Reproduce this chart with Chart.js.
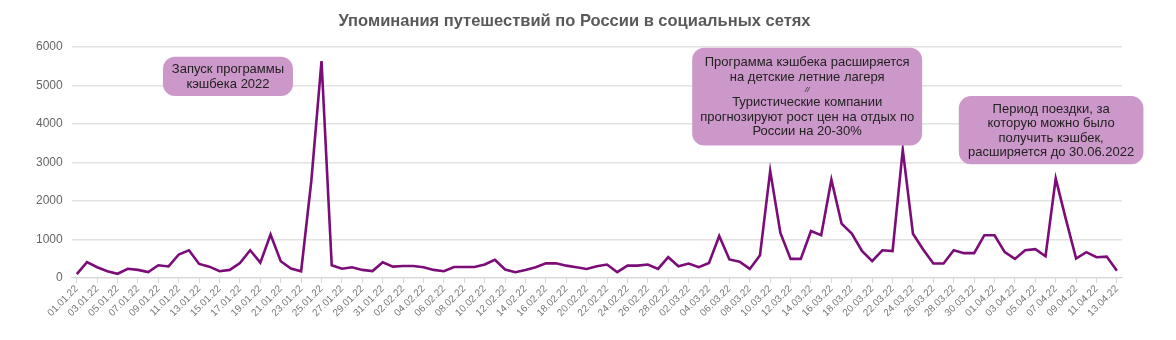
<!DOCTYPE html>
<html>
<head>
<meta charset="utf-8">
<script src="https://cdn.jsdelivr.net/npm/chart.js@4/dist/chart.umd.min.js"></script>
<style>
  html, body { margin: 0; padding: 0; background: #fff; }
  #wrap { width: 1176px; height: 340px; }
</style>
</head>
<body>
<div id="wrap"><canvas id="c" width="1176" height="340"></canvas></div>
<script>
const title = 'Упоминания путешествий по России в социальных сетях';
const months = ['01', '02', '03', '04'];
const daysInMonth = [31, 28, 31, 13];
const categories = [];
months.forEach((m, mi) => {
  for (let d = 1; d <= daysInMonth[mi]; d++) {
    categories.push(String(d).padStart(2, '0') + '.' + m + '.22');
  }
});
const mentions = [
  100, 410, 280, 175, 110, 240, 210, 155, 330, 300, 610, 720, 365, 295, 175, 210,
  390, 720, 400, 1130, 435, 245, 175, 2520, 5630, 330, 240, 280, 210, 180, 410, 295,
  310, 310, 280, 210, 175, 285, 285, 285, 350, 470, 220, 150, 210, 280, 380, 380,
  320, 280, 235, 305, 350, 150, 320, 320, 350, 235, 540, 305, 375, 280, 390, 1090,
  480, 420, 235, 590,
  2780, 1170, 495, 495, 1220, 1110, 2550, 1410, 1150, 700, 435, 720, 700, 3330, 1150,
  740, 375, 375, 720, 645, 645, 1110, 1110, 670, 495, 720, 750, 565, 2580, 1520, 505,
  670, 540, 555, 190
];
const yTicks = [0, 1000, 2000, 3000, 4000, 5000, 6000];

const note1 = ['Запуск программы', 'кэшбека 2022'];
const note2 = ['Программа кэшбека расширяется', 'на детские летние лагеря', '//',
  'Туристические компании', 'прогнозируют рост цен на отдых по', 'России на 20-30%'];
const note3 = ['Период поездки, за', 'которую можно было', 'получить кэшбек,', 'расширяется до 30.06.2022'];
// boxes anchored in data space: category index range and value range
const notes = [
  { lines: note1, xMin: 8.45, xMax: 21.2, yMax: 5740, yMin: 4720 },
  { lines: note2, xMin: 60.35, xMax: 82.9, yMax: 5975, yMin: 3440 },
  { lines: note3, xMin: 86.5, xMax: 104.6, yMax: 4720, yMin: 2950 }
];

const notePlugin = {
  id: 'notes',
  afterDatasetsDraw(chart) {
    const { ctx, scales: { x, y } } = chart;
    ctx.save();
    notes.forEach(n => {
      const l = x.getPixelForValue(n.xMin), r = x.getPixelForValue(n.xMax);
      const t = y.getPixelForValue(n.yMax), b = y.getPixelForValue(n.yMin);
      ctx.fillStyle = '#cc97c9';
      ctx.beginPath();
      ctx.roundRect(l, t, r - l, b - t, 12);
      ctx.fill();
      const heights = n.lines.map(s => s === '//' ? 11 : 14.5);
      const total = heights.reduce((a, c) => a + c, 0);
      let cy = (t + b) / 2 - total / 2 + 0.5;
      ctx.fillStyle = '#222';
      ctx.textAlign = 'center';
      ctx.textBaseline = 'middle';
      n.lines.forEach((s, i) => {
        ctx.font = s === '//' ? 'italic 8px "Liberation Sans", Arial, sans-serif' : '13px "Liberation Sans", Arial, sans-serif';
        ctx.fillText(s, (l + r) / 2, cy + heights[i] / 2);
        cy += heights[i];
      });
    });
    ctx.restore();
  }
};

new Chart(document.getElementById('c'), {
  type: 'line',
  data: {
    labels: categories,
    datasets: [{
      data: mentions,
      borderColor: '#7b0c78',
      borderWidth: 2.6,
      pointRadius: 0,
      tension: 0,
      fill: false
    }]
  },
  options: {
    responsive: false,
    animation: false,
    layout: { padding: { left: 27, right: 54, top: 10, bottom: 21 } },
    plugins: {
      legend: { display: false },
      tooltip: { enabled: false },
      title: {
        display: true,
        text: title,
        color: '#595959',
        font: { family: '"Liberation Sans", Arial, sans-serif', size: 16.5, weight: 'bold' },
        padding: { top: 2, bottom: 15 }
      }
    },
    scales: {
      x: {
        offset: true,
        grid: {
          display: true,
          drawOnChartArea: false,
          tickLength: 5,
          color: ctx => (ctx.index % 2 === 0 ? '#d6d6d6' : 'rgba(0,0,0,0)')
        },
        border: { color: '#d6d6d6' },
        ticks: {
          autoSkip: false,
          maxRotation: 45,
          minRotation: 45,
          color: '#777',
          padding: 0,
          font: { family: '"Liberation Sans", Arial, sans-serif', size: 10 },
          callback: function (v, i) { return i % 2 === 0 ? this.getLabelForValue(v) : ''; }
        }
      },
      y: {
        min: 0,
        max: 6000,
        afterBuildTicks: axis => { axis.ticks = yTicks.map(v => ({ value: v })); },
        grid: { color: '#e2e2e2', drawTicks: false, lineWidth: 1.5 },
        border: { display: false },
        ticks: {
          color: '#666',
          padding: 9,
          font: { family: '"Liberation Sans", Arial, sans-serif', size: 12 },
          callback: v => String(v)
        }
      }
    }
  },
  plugins: [notePlugin]
});
</script>
</body>
</html>
